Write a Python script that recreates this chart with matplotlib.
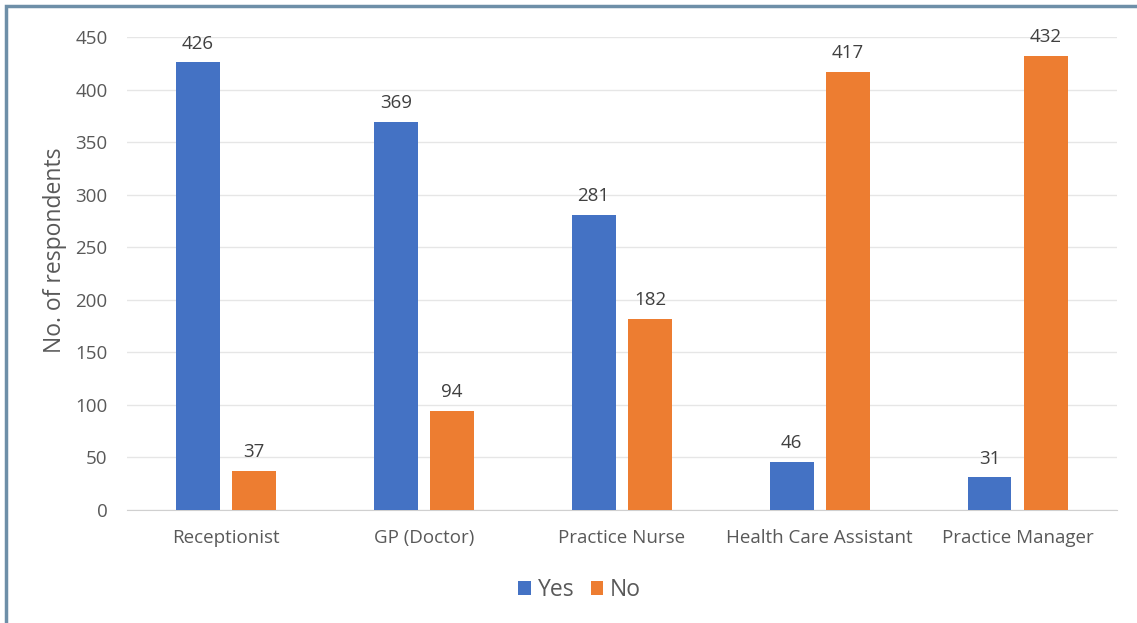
import numpy as np
import matplotlib.pyplot as plt
from matplotlib.patches import Rectangle

plt.rcParams['font.family'] = ['Open Sans', 'DejaVu Sans']

# -----------------------------------------------------------------------------
# Data
# -----------------------------------------------------------------------------
roles = ['Receptionist', 'GP (Doctor)', 'Practice Nurse',
         'Health Care Assistant', 'Practice Manager']
yes_counts = [426, 369, 281, 46, 31]
no_counts = [37, 94, 182, 417, 432]
y_ticks = [0, 50, 100, 150, 200, 250, 300, 350, 400, 450]

BLUE = '#4472C4'
ORANGE = '#ED7D31'
TEXT = '#595959'

fig = plt.figure(figsize=(11.37, 6.23), dpi=100)
ax = fig.add_axes([0.1117, 0.1814, 0.8703, 0.7592])

x = np.arange(len(roles))
width = 0.222
offset = 0.142

bars_yes = ax.bar(x - offset, yes_counts, width, color=BLUE, label='Yes', zorder=3)
bars_no = ax.bar(x + offset, no_counts, width, color=ORANGE, label='No', zorder=3)

for bars in (bars_yes, bars_no):
    for b in bars:
        ax.annotate('%d' % b.get_height(),
                    (b.get_x() + b.get_width() / 2, b.get_height()),
                    xytext=(0, 7), textcoords='offset points',
                    ha='center', va='bottom', fontsize=13.5, color='#404040')

ax.set_xlim(-0.5, len(roles) - 0.5)
ax.set_ylim(0, 450)
ax.set_yticks(y_ticks)
ax.set_xticks(x)
ax.set_xticklabels(roles)
ax.tick_params(axis='both', length=0, labelsize=13.5, labelcolor=TEXT)
ax.tick_params(axis='x', pad=14)
ax.tick_params(axis='y', pad=14)
ax.yaxis.grid(True, color='#E6E6E6', linewidth=1, zorder=0)
for s in ('top', 'right', 'left'):
    ax.spines[s].set_visible(False)
ax.spines['bottom'].set_color('#D0D0D0')

ax.set_ylabel('No. of respondents', fontsize=16.5, color=TEXT)
ax.yaxis.set_label_coords(-0.061, 0.55)

ax.legend(loc='upper center', bbox_to_anchor=(0.4576, -0.1), ncol=2,
          frameon=False, fontsize=16.5, handlelength=0.55, handleheight=0.55,
          handletextpad=0.3, columnspacing=0.7, labelcolor=TEXT)

# frame around the figure (left and top edges)
fig.patches.append(Rectangle((0.005, -0.01), 1.2, 1.001,
                             transform=fig.transFigure, fill=False,
                             edgecolor='#6E8FA8', linewidth=2.5))

fig.savefig('out.png', dpi=100)
